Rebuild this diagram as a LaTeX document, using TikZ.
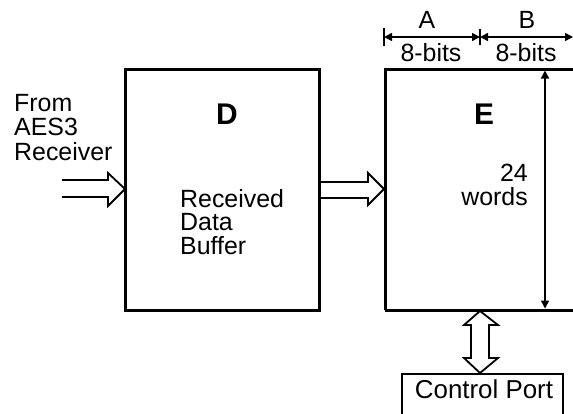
\documentclass[tikz,border=0pt]{standalone}
\usepackage{fontspec}
\setmainfont{Liberation Sans}
\usetikzlibrary{arrows.meta}
\begin{document}
\begin{tikzpicture}[x=1bp,y=-1bp,
  txt/.style={font=\fontsize{25}{23.5}\selectfont, inner sep=0pt},
  big/.style={font=\fontsize{30}{30}\selectfont\bfseries, inner sep=0pt},
  blockbox/.style={draw, line width=3bp},
  hollow/.style={draw, line width=1.8bp, line join=miter},
  dim/.style={line width=1.5bp, {Triangle[length=8bp,width=8bp]}-{Triangle[length=8bp,width=8bp]}},
  tick/.style={line width=1.5bp}]
\useasboundingbox (0,0) rectangle (573,413);
\clip (0,0) rectangle (573,413);
% blocks
\draw[blockbox] (125,69) rectangle (319,310);
\draw[blockbox] (385,310) -- (385,69) -- (580,69);
\draw[blockbox] (385,310) -- (580,310);
% texts in D
\node[big] (Dlabel) at (227,114) {D};
\node[txt, align=left, anchor=north west] (Dtext) at (180,189) {Received\\Data\\Buffer};
% texts in E
\node[big] (Elabel) at (484,114) {E};
\node[txt, align=right, anchor=north east] (Etext) at (528,164) {24\\words};
% input text
\node[txt, font=\fontsize{25}{24.5}\selectfont, align=left, anchor=north west] (from) at (14,94) {From\\AES3\\Receiver};
% hollow arrows
\draw[hollow] (62,180) -- (108,180) -- (108,173) -- (125,189) -- (108,206) -- (108,197) -- (62,197);
\draw[hollow] (319,182) -- (368,182) -- (368,173) -- (384,189) -- (368,205) -- (368,198) -- (319,198);
\draw[hollow] (480,311) -- (498,325) -- (489,325) -- (489,358) -- (498,358) -- (480,373)
  -- (464,358) -- (471,358) -- (471,325) -- (464,325) -- cycle;
% control port
\draw[line width=1.8bp] (402,420) -- (402,374) -- (563,374) -- (563,420);
\node[txt, font=\fontsize{26}{26}\selectfont] (cp) at (484,389) {Control Port};
% dimension lines
\coordinate (a1) at (384,37);
\coordinate (a2) at (480,37);
\coordinate (b2) at (573,37);
\draw[dim] (a1) -- (a2);
\draw[dim] (a2) -- (b2);
\draw[tick] (384,28) -- (384,46);
\draw[tick] (480,29) -- (480,45);
\node[txt] (A) at (427,20) {A};
\node[txt] (B) at (527,20) {B};
\node[txt] (bitsA) at (431,53) {8-bits};
\node[txt] (bitsB) at (526,53) {8-bits};
\coordinate (v1) at (545,70.5);
\coordinate (v2) at (545,308.5);
\draw[dim] (v1) -- (v2);
\end{tikzpicture}
\end{document}
